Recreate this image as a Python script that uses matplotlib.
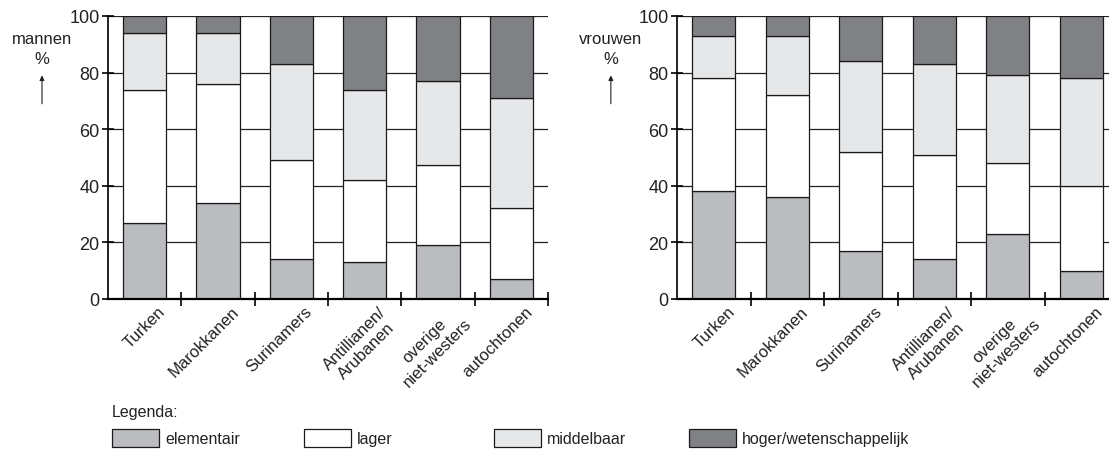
import matplotlib
matplotlib.use('Agg')
import matplotlib.pyplot as plt
from matplotlib.patches import Rectangle
import numpy as np

plt.rcParams['font.family'] = ['Liberation Sans', 'DejaVu Sans']

groepen = ['Turken', 'Marokkanen', 'Surinamers', 'Antillianen/\nArubanen',
           'overige\nniet-westers', 'autochtonen']
niveaus = ['elementair', 'lager', 'middelbaar', 'hoger/wetenschappelijk']
kleuren = ['#bbbcc0', '#ffffff', '#e6e7e8', '#808184']

# percentages per niveau
mannen_elementair = [27, 34, 14, 13, 19, 7]
mannen_lager = [47, 42, 35, 29, 28.5, 25]
mannen_middelbaar = [20, 18, 34, 32, 29.5, 39]
mannen_hoger = [6, 6, 17, 26, 23, 29]

vrouwen_elementair = [38, 36, 17, 14, 23, 10]
vrouwen_lager = [40, 36, 35, 37, 25, 30]
vrouwen_middelbaar = [15, 21, 32, 32, 31, 38]
vrouwen_hoger = [7, 7, 16, 17, 21, 22]

yticks = [0, 20, 40, 60, 80, 100]

fig = plt.figure(figsize=(11.09, 4.56), dpi=100)


def stapel(ax, reeksen, label):
    x = np.arange(len(groepen))
    for y in yticks[1:]:
        ax.axhline(y, color='#222222', lw=0.9, zorder=0)
    onder = np.zeros(len(groepen))
    for waarden, kleur in zip(reeksen, kleuren):
        ax.bar(x, waarden, bottom=onder, width=0.59, color=kleur,
               edgecolor='#1a1a1a', linewidth=0.9, zorder=2)
        onder += np.array(waarden)
    ax.set_xlim(-0.5, len(groepen) - 0.5)
    ax.set_ylim(0, 100)
    ax.set_yticks(yticks)
    ax.set_yticklabels([str(t) for t in yticks],
                       family=['Liberation Sans Narrow', 'Liberation Sans'], fontsize=13)
    ax.tick_params(axis='y', direction='inout', length=8, width=1.2, pad=2,
                   labelcolor='#222222')
    ax.set_xticks(x + 0.5)
    ax.set_xticklabels([])
    ax.tick_params(axis='x', direction='inout', length=10, width=1.2)
    for i, g in enumerate(groepen):
        ax.text(i + 0.18, -0.015, g, transform=ax.get_xaxis_transform(),
                rotation=45, ha='right', va='top', rotation_mode='anchor',
                multialignment='center', fontsize=12, color='#222222')
    for s in ['top', 'right']:
        ax.spines[s].set_visible(False)
    ax.spines['left'].set_linewidth(1.2)
    ax.spines['bottom'].set_linewidth(1.6)
    ax.text(-0.15, 0.92, label, transform=ax.transAxes, ha='center', va='center',
            fontsize=12, color='#222222')
    ax.text(-0.15, 0.85, '%', transform=ax.transAxes, ha='center', va='center',
            fontsize=12, color='#222222')
    ax.annotate('', xy=(-0.15, 0.8), xytext=(-0.15, 0.68),
                xycoords='axes fraction',
                arrowprops=dict(arrowstyle='-|>', color='#222222', lw=0.8,
                                mutation_scale=7))


ax1 = fig.add_axes([108 / 1109, 1 - 300 / 456, 440 / 1109, 283 / 456])
stapel(ax1, [mannen_elementair, mannen_lager, mannen_middelbaar, mannen_hoger], 'mannen')
ax2 = fig.add_axes([677 / 1109, 1 - 300 / 456, 441 / 1109, 283 / 456])
stapel(ax2, [vrouwen_elementair, vrouwen_lager, vrouwen_middelbaar, vrouwen_hoger], 'vrouwen')

# legenda
fig.text(112 / 1109, 1 - 413 / 456, 'Legenda:', ha='left', va='center',
         fontsize=11.5, color='#222222')
legenda_x = [112, 304, 494, 689]
for xp, naam, kleur in zip(legenda_x, niveaus, kleuren):
    fig.patches.append(Rectangle((xp / 1109, 1 - 448 / 456), 47 / 1109, 18 / 456,
                                 transform=fig.transFigure, facecolor=kleur,
                                 edgecolor='#1a1a1a', linewidth=0.9))
    fig.text((xp + 53) / 1109, 1 - 440 / 456, naam, ha='left', va='center',
             fontsize=11.5, color='#222222')

fig.savefig('out.png', dpi=100)
